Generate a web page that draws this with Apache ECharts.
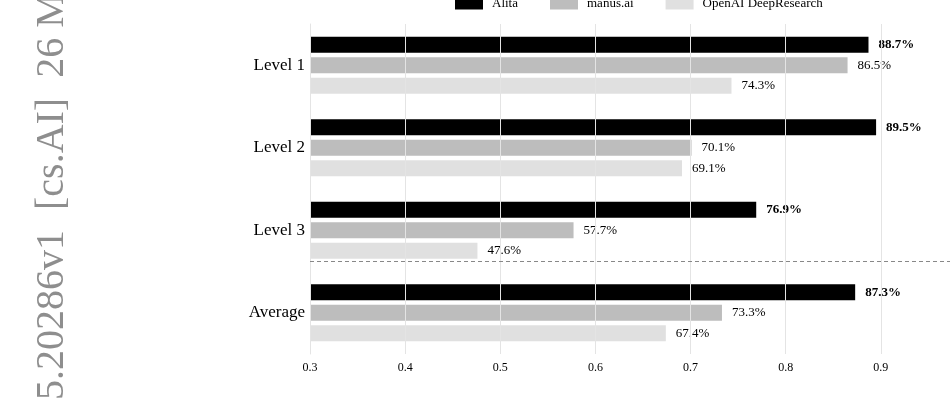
<!DOCTYPE html>
<html>
<head>
<meta charset="utf-8">
<title>GAIA levels</title>
<style>
  html, body { margin: 0; width: 100%; height: 100%; background: #fff; }
  #chart { width: 950px; height: 400px; }
</style>
</head>
<body>
<div id="chart"></div>
<script src="https://cdn.jsdelivr.net/npm/echarts@6/dist/echarts.min.js"></script>
<script>
const levels = ['Level 1', 'Level 2', 'Level 3', 'Average'];
const alita = [0.887, 0.895, 0.769, 0.873];
const manus = [0.865, 0.701, 0.577, 0.733];
const deepResearch = [0.743, 0.691, 0.476, 0.674];
const xTicks = [0.3, 0.4, 0.5, 0.6, 0.7, 0.8, 0.9];

const serif = '"Liberation Serif", "DejaVu Serif", serif';
const chart = echarts.init(document.getElementById('chart'));

function pct(p) { return (p.value * 100).toFixed(1) + '%'; }

function barSeries(name, data, color, bold) {
  return {
    name: name,
    type: 'bar',
    data: data,
    barWidth: 16,
    barGap: '28%',
    itemStyle: { color: color },
    label: {
      show: true,
      position: 'right',
      distance: 9,
      formatter: pct,
      fontFamily: serif,
      fontSize: 13,
      fontWeight: bold ? 'bold' : 'normal',
      color: '#000',
      backgroundColor: '#fff',
      padding: [0, 1]
    }
  };
}

chart.setOption({
  animation: false,
  textStyle: { fontFamily: serif },
  legend: {
    top: -8,
    left: 450,
    itemWidth: 28,
    itemHeight: 12,
    itemGap: 32,
    icon: 'rect',
    textStyle: { fontFamily: serif, fontSize: 13, color: '#000', padding: [0, 0, 0, 4] },
    data: ['Alita', 'manus.ai', 'OpenAI DeepResearch']
  },
  grid: { left: 310, right: -26, top: 24, bottom: 46, outerBoundsMode: 'none', containLabel: false },
  xAxis: {
    type: 'value',
    min: 0.3,
    max: 1.0,
    interval: 0.1,
    z: 5,
    axisLine: { show: false },
    axisTick: { show: false },
    splitLine: { show: true, showMaxLine: false, lineStyle: { color: '#e4e4e4', width: 1 } },
    axisLabel: {
      fontFamily: serif,
      fontSize: 12,
      color: '#000',
      margin: 8,
      formatter: function (v) {
        const t = xTicks.find(function (x) { return Math.abs(x - v) < 1e-6; });
        return t === undefined ? '' : t.toFixed(1);
      }
    }
  },
  yAxis: {
    type: 'category',
    data: levels,
    inverse: true,
    axisLine: { show: true, lineStyle: { color: '#e4e4e4' } },
    axisTick: { show: false },
    axisLabel: { fontFamily: serif, fontSize: 17, color: '#000', margin: 5 }
  },
  series: [
    barSeries('Alita', alita, '#000000', true),
    barSeries('manus.ai', manus, '#bdbdbd', false),
    barSeries('OpenAI DeepResearch', deepResearch, '#e0e0e0', false)
  ]
});

// dashed separator between the levels and the average, placed from the category scale
const yL3 = chart.convertToPixel({ yAxisIndex: 0 }, 'Level 3');
const yAvg = chart.convertToPixel({ yAxisIndex: 0 }, 'Average');
const ySep = Math.round(yL3 + (yAvg - yL3) * 0.37) + 0.5;
const xStart = chart.convertToPixel({ xAxisIndex: 0 }, 0.3);

chart.setOption({
  graphic: [
    {
      id: 'arxiv',
      type: 'text',
      x: 72,
      y: 400,
      rotation: Math.PI / 2,
      style: {
        text: '5.20286v1  [cs.AI]  26 M',
        font: '40px ' + serif,
        fill: '#8e8e8e',
        textAlign: 'left',
        textVerticalAlign: 'bottom'
      }
    },
    {
      id: 'sep',
      type: 'line',
      silent: true,
      z: 6,
      shape: { x1: xStart, y1: ySep, x2: 950, y2: ySep },
      style: { stroke: '#888', lineWidth: 1, lineDash: [4, 3] }
    }
  ]
});
</script>
</body>
</html>
